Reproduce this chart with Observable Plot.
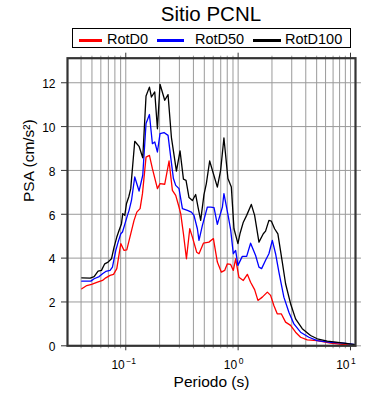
<!DOCTYPE html>
<html>
<head>
<meta charset="utf-8">
<script src="https://cdn.jsdelivr.net/npm/d3@7"></script>
<script src="https://cdn.jsdelivr.net/npm/@observablehq/plot@0.6"></script>
<style>
  html, body { margin: 0; padding: 0; background: #fff; }
  #wrap { position: relative; width: 390px; height: 400px; font-family: "Liberation Sans", Arial, sans-serif; color: #000; }
  #title { position: absolute; left: 111px; width: 200px; top: 3.6px; height: 20px; line-height: 20px; font-size: 20.5px; text-align: center; white-space: nowrap; }
  #legend { position: absolute; left: 72px; top: 28px; width: 277px; height: 18px; border: 1px solid #000; }
  .sw { position: absolute; height: 3px; top: 39px; }
  .lt { position: absolute; top: 32px; height: 14px; line-height: 14px; font-size: 14.5px; white-space: nowrap; }
  #chart { position: absolute; left: 0; top: 52px; }
</style>
</head>
<body>
<div id="wrap">
  <div id="title"></div>
  <div id="legend"></div>
  <div id="chart"></div>
</div>
<script>
// ---- data ----
const titleText = "Sitio PCNL";
const seriesNames = ["RotD0", "RotD50", "RotD100"];
const seriesColors = ["#ff0000", "#0000ff", "#000000"];
const xLabel = "Periodo (s)";
const yLabel = "PSA (cm/s\u00B2)";
const majorX = [0.1, 1, 10];
const majorExp = ["\u22121", "0", "1"];
const minorX = [0.04,0.05,0.06,0.07,0.08,0.09,0.2,0.3,0.4,0.5,0.6,0.7,0.8,0.9,2,3,4,5,6,7,8,9];
const gridX = [0.04,0.05,0.06,0.07,0.08,0.09,0.1,0.2,0.3,0.4,0.5,0.6,0.7,0.8,0.9,1,2,3,4,5,6,7,8,9,10];
const yTicks = [0, 2, 4, 6, 8, 10, 12];
const yGrid = [2, 4, 6, 8, 10, 12];

// [period (s), PSA (cm/s^2)]
const rotD0 = [[0.0406,2.60],[0.0450,2.75],[0.0496,2.80],[0.0560,2.90],[0.0621,2.98],[0.0664,3.10],[0.0725,3.21],[0.0778,3.26],[0.0832,3.52],[0.0903,4.66],[0.0966,4.35],[0.1021,4.38],[0.1107,5.11],[0.1185,5.72],[0.1254,6.10],[0.1341,6.26],[0.1408,6.94],[0.1515,8.61],[0.1624,8.69],[0.1726,8.08],[0.1913,7.17],[0.2018,7.40],[0.2222,7.37],[0.2427,8.43],[0.2600,7.09],[0.2783,6.86],[0.2977,6.33],[0.3083,6.03],[0.3260,5.11],[0.3467,3.97],[0.3711,5.34],[0.3918,4.96],[0.4276,4.27],[0.4485,4.20],[0.4910,4.68],[0.5495,4.73],[0.6025,4.89],[0.6531,3.82],[0.7096,3.36],[0.7586,3.44],[0.8017,3.74],[0.8577,3.71],[0.9061,3.44],[0.9500,3.97],[1.016,3.13],[1.112,2.98],[1.208,3.26],[1.291,2.90],[1.402,2.56],[1.500,2.07],[1.641,2.22],[1.820,2.45],[1.945,2.30],[2.080,1.84],[2.228,1.46],[2.420,1.46],[2.644,1.08],[2.929,0.93],[3.245,0.62],[3.594,0.39],[4.120,0.27],[5.058,0.24],[6.637,0.12],[8.718,0.06],[11.07,0.01]];
const rotD50 = [[0.0406,2.95],[0.0489,2.95],[0.0523,3.06],[0.0580,3.16],[0.0621,3.29],[0.0664,3.39],[0.0725,3.44],[0.0761,3.59],[0.0815,4.35],[0.0855,4.73],[0.0903,5.11],[0.0935,5.19],[0.0980,5.54],[0.1035,5.95],[0.1070,6.18],[0.1124,6.63],[0.1202,7.70],[0.1313,7.06],[0.1416,7.78],[0.1515,10.14],[0.1624,10.55],[0.1726,9.22],[0.1811,9.30],[0.1913,8.84],[0.2018,9.68],[0.2188,9.73],[0.2378,9.60],[0.2512,8.61],[0.2655,7.63],[0.2783,7.32],[0.2977,7.17],[0.3193,6.26],[0.3536,6.18],[0.3836,6.10],[0.4046,5.95],[0.4337,5.34],[0.4485,4.81],[0.4808,5.49],[0.5325,6.33],[0.5705,6.33],[0.6101,6.30],[0.6531,5.54],[0.7246,6.33],[0.7475,6.94],[0.8111,6.00],[0.8577,5.30],[0.9061,4.20],[0.9500,4.35],[0.9959,3.67],[1.089,4.08],[1.191,4.08],[1.291,4.68],[1.431,4.12],[1.532,3.59],[1.618,3.52],[1.755,3.90],[1.879,4.20],[2.015,4.81],[2.154,4.20],[2.306,3.36],[2.553,2.22],[2.830,1.53],[3.135,1.00],[3.594,0.62],[4.260,0.39],[5.058,0.24],[6.637,0.16],[8.718,0.12],[11.07,0.05]];
const rotD100 = [[0.0406,3.10],[0.0482,3.09],[0.0523,3.16],[0.0567,3.41],[0.0608,3.44],[0.0650,3.74],[0.0696,3.82],[0.0746,3.97],[0.0787,4.50],[0.0832,4.96],[0.0871,5.26],[0.0916,5.57],[0.0940,6.03],[0.0980,5.95],[0.1014,6.48],[0.1064,6.80],[0.1107,7.17],[0.1202,9.33],[0.1313,9.10],[0.1416,8.58],[0.1515,11.40],[0.1624,11.80],[0.1692,11.35],[0.1811,11.58],[0.1913,9.90],[0.2018,11.93],[0.2222,11.20],[0.2378,11.46],[0.2549,9.50],[0.2824,7.97],[0.3041,8.89],[0.3260,7.60],[0.3438,7.55],[0.3655,6.76],[0.3918,6.63],[0.4190,6.90],[0.4395,6.33],[0.4642,5.72],[0.4966,6.90],[0.5213,7.40],[0.5580,8.43],[0.6531,7.24],[0.6985,8.00],[0.7475,9.48],[0.8111,7.63],[0.8701,7.24],[0.9183,5.34],[0.9959,4.66],[1.038,5.11],[1.112,5.64],[1.191,5.95],[1.310,6.45],[1.402,5.95],[1.532,4.73],[1.675,5.11],[1.755,5.23],[1.879,5.72],[1.973,5.69],[2.111,5.34],[2.258,5.11],[2.472,3.82],[2.644,2.83],[2.929,1.92],[3.245,1.23],[3.722,0.78],[4.409,0.47],[5.058,0.32],[6.209,0.21],[7.108,0.18],[8.718,0.12],[11.07,0.05]];
const seriesData = [rotD0, rotD50, rotD100];

// ---- title & legend (HTML above the SVG) ----
document.getElementById("title").textContent = titleText;
const legendLayout = [
  {sw: 79, sww: 23, tx: 107},
  {sw: 157, sww: 27, tx: 195},
  {sw: 253, sww: 28, tx: 285}
];
const wrap = document.getElementById("wrap");
seriesNames.forEach((name, i) => {
  const s = document.createElement("div");
  s.className = "sw";
  s.style.left = legendLayout[i].sw + "px";
  s.style.width = legendLayout[i].sww + "px";
  s.style.background = seriesColors[i];
  wrap.appendChild(s);
  const t = document.createElement("div");
  t.className = "lt";
  t.style.left = legendLayout[i].tx + "px";
  t.textContent = name;
  wrap.appendChild(t);
});

// ---- chart ----
const font = "Liberation Sans, Arial, sans-serif";
const chart = Plot.plot({
  width: 390,
  height: 348,
  marginLeft: 67,
  marginRight: 35,
  marginTop: 5.7,
  marginBottom: 54.7,
  style: {fontFamily: font, fontSize: "12px", background: "transparent", overflow: "visible", color: "#000"},
  x: {type: "log", domain: [0.0303, 11.08]},
  y: {domain: [0, 13.12]},
  marks: [
    Plot.ruleX(gridX, {stroke: "#9a9a9a", strokeWidth: 1}),
    Plot.ruleY(yGrid, {stroke: "#9a9a9a", strokeWidth: 1}),
    Plot.axisX(minorX, {anchor: "bottom", tickSize: 3, tickFormat: () => "", stroke: "#999", label: null}),
    Plot.axisX(majorX, {anchor: "bottom", tickSize: 5, tickFormat: () => "", stroke: "#333", label: null}),
    Plot.axisX(minorX, {anchor: "top", tickSize: 3, tickFormat: () => "", stroke: "#999", label: null}),
    Plot.axisX(majorX, {anchor: "top", tickSize: 6, tickFormat: () => "", stroke: "#333", label: null}),
    Plot.axisY(yTicks, {anchor: "left", tickSize: 6, tickFormat: () => "", stroke: "#333", label: null}),
    Plot.axisY(yTicks, {anchor: "right", tickSize: 5, tickFormat: () => "", stroke: "#999", label: null}),
    ...seriesData.map((s, i) => Plot.line(s, {x: d => d[0], y: d => d[1], stroke: seriesColors[i], strokeWidth: 1.3})),
    Plot.frame({stroke: "#333", strokeWidth: 2.2}),
    Plot.text(yTicks, {y: d => d, text: d => String(d), frameAnchor: "left", textAnchor: "end", lineAnchor: "middle", dx: -12, dy: 1.5, fontSize: 12, fill: "#000"}),
    Plot.text(majorX, {x: d => d, text: () => "10", frameAnchor: "bottom", textAnchor: "end", lineAnchor: "bottom", dx: -1, dy: 22.7, fontSize: 12, fill: "#000"}),
    Plot.text(majorX, {x: d => d, text: (d, i) => majorExp[i], frameAnchor: "bottom", textAnchor: "start", lineAnchor: "bottom", dx: 0.5, dy: 18.5, fontSize: 8.5, fill: "#000"}),
    Plot.text([xLabel], {text: d => d, frameAnchor: "bottom", lineAnchor: "bottom", dy: 40.7, fontSize: 15.5, fill: "#000"}),
    Plot.text([yLabel], {text: d => d, frameAnchor: "left", rotate: -90, lineAnchor: "middle", dx: -38, fontSize: 15.5, fill: "#000"})
  ]
});
document.getElementById("chart").appendChild(chart);
</script>
</body>
</html>
